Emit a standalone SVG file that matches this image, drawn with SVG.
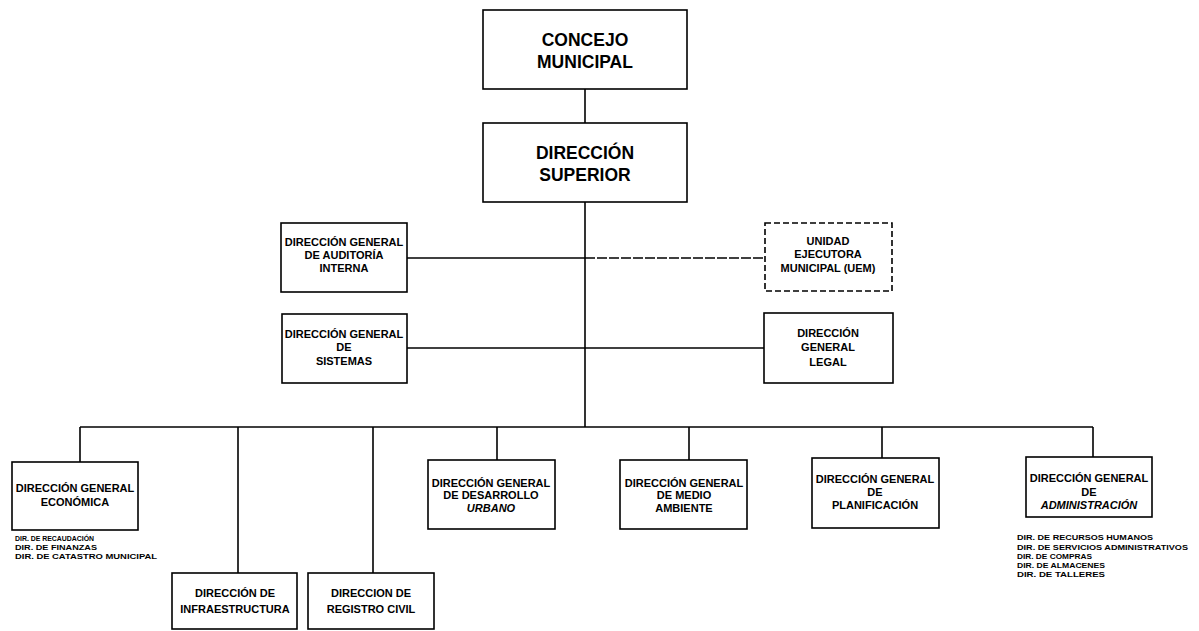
<svg xmlns="http://www.w3.org/2000/svg" width="1199" height="631" viewBox="0 0 1199 631">
  <style>
    .box { fill: #ffffff; stroke: #000000; stroke-width: 1.6; }
    .dash { stroke-dasharray: 6 3; }
    .wire { fill: none; stroke: #000000; stroke-width: 1.6; }
    .wire-d { fill: none; stroke: #000000; stroke-width: 1.6; stroke-dasharray: 10 2; }
    .big { font-family: "Liberation Sans", Arial, sans-serif; font-weight: bold; font-size: 17.5px; text-anchor: middle; fill: #000; }
    .lbl { font-family: "Liberation Sans", Arial, sans-serif; font-weight: bold; font-size: 11px; text-anchor: middle; fill: #000; }
    .it { font-style: italic; }
    .sub { font-family: "Liberation Sans", Arial, sans-serif; font-weight: bold; font-size: 7px; fill: #000; }
  </style>
  <rect width="1199" height="631" fill="#ffffff"/>

  <!-- connectors -->
  <g id="connectors">
    <line class="wire" x1="585" y1="89" x2="585" y2="123"/>
    <line class="wire" x1="585" y1="202" x2="585" y2="427"/>
    <line class="wire" x1="407" y1="258" x2="585" y2="258"/>
    <line class="wire-d" x1="585" y1="258" x2="765" y2="258"/>
    <line class="wire" x1="407" y1="348" x2="764" y2="348"/>
    <line class="wire" x1="80" y1="427" x2="1093" y2="427"/>
    <line class="wire" x1="80" y1="427" x2="80" y2="462"/>
    <line class="wire" x1="238" y1="427" x2="238" y2="573"/>
    <line class="wire" x1="373" y1="427" x2="373" y2="573"/>
    <line class="wire" x1="497" y1="427" x2="497" y2="460"/>
    <line class="wire" x1="689" y1="427" x2="689" y2="460"/>
    <line class="wire" x1="882" y1="427" x2="882" y2="458"/>
    <line class="wire" x1="1093" y1="427" x2="1093" y2="457"/>
  </g>

  <g id="concejo">
    <rect class="box" x="483" y="10" width="204" height="79"/>
    <text class="big" x="585" y="46">CONCEJO</text>
    <text class="big" x="585" y="68">MUNICIPAL</text>
  </g>

  <g id="direccion-superior">
    <rect class="box" x="483" y="123" width="204" height="79"/>
    <text class="big" x="585" y="159">DIRECCIÓN</text>
    <text class="big" x="585" y="181">SUPERIOR</text>
  </g>

  <g id="auditoria">
    <rect class="box" x="281" y="223" width="126" height="69"/>
    <text class="lbl" x="344" y="246">DIRECCIÓN GENERAL</text>
    <text class="lbl" x="344" y="259">DE AUDITORÍA</text>
    <text class="lbl" x="344" y="272">INTERNA</text>
  </g>

  <g id="uem">
    <rect class="box dash" x="765" y="223" width="127" height="68"/>
    <text class="lbl" x="828" y="245">UNIDAD</text>
    <text class="lbl" x="828" y="258">EJECUTORA</text>
    <text class="lbl" x="828" y="272">MUNICIPAL (UEM)</text>
  </g>

  <g id="sistemas">
    <rect class="box" x="282" y="314" width="125" height="69"/>
    <text class="lbl" x="344" y="338">DIRECCIÓN GENERAL</text>
    <text class="lbl" x="344" y="351">DE</text>
    <text class="lbl" x="344" y="365">SISTEMAS</text>
  </g>

  <g id="legal">
    <rect class="box" x="764" y="313" width="129" height="70"/>
    <text class="lbl" x="828" y="337">DIRECCIÓN</text>
    <text class="lbl" x="828" y="351">GENERAL</text>
    <text class="lbl" x="828" y="366">LEGAL</text>
  </g>

  <g id="economica">
    <rect class="box" x="12" y="462" width="126" height="68"/>
    <text class="lbl" x="75" y="492">DIRECCIÓN GENERAL</text>
    <text class="lbl" x="75" y="506">ECONÓMICA</text>
    <text class="sub" x="15" y="541" textLength="79" lengthAdjust="spacingAndGlyphs">DIR. DE RECAUDACIÓN</text>
    <text class="sub" x="15" y="550" textLength="82" lengthAdjust="spacingAndGlyphs">DIR. DE FINANZAS</text>
    <text class="sub" x="15" y="559" textLength="142" lengthAdjust="spacingAndGlyphs">DIR. DE CATASTRO MUNICIPAL</text>
  </g>

  <g id="infraestructura">
    <rect class="box" x="172" y="573" width="125" height="56"/>
    <text class="lbl" x="235" y="597">DIRECCIÓN DE</text>
    <text class="lbl" x="235" y="613">INFRAESTRUCTURA</text>
  </g>

  <g id="registro-civil">
    <rect class="box" x="308" y="573" width="126" height="56"/>
    <text class="lbl" x="371" y="597">DIRECCION DE</text>
    <text class="lbl" x="371" y="613">REGISTRO CIVIL</text>
  </g>

  <g id="desarrollo-urbano">
    <rect class="box" x="428" y="460" width="127" height="69"/>
    <text class="lbl" x="491" y="487">DIRECCIÓN GENERAL</text>
    <text class="lbl" x="491" y="499">DE DESARROLLO</text>
    <text class="lbl it" x="491" y="512">URBANO</text>
  </g>

  <g id="medio-ambiente">
    <rect class="box" x="620" y="460" width="127" height="69"/>
    <text class="lbl" x="684" y="487">DIRECCIÓN GENERAL</text>
    <text class="lbl" x="684" y="499">DE MEDIO</text>
    <text class="lbl" x="684" y="512">AMBIENTE</text>
  </g>

  <g id="planificacion">
    <rect class="box" x="812" y="458" width="127" height="70"/>
    <text class="lbl" x="875" y="483">DIRECCIÓN GENERAL</text>
    <text class="lbl" x="875" y="496">DE</text>
    <text class="lbl" x="875" y="509">PLANIFICACIÓN</text>
  </g>

  <g id="administracion">
    <rect class="box" x="1026" y="457" width="126" height="60"/>
    <text class="lbl" x="1089" y="482">DIRECCIÓN GENERAL</text>
    <text class="lbl" x="1089" y="496">DE</text>
    <text class="lbl it" x="1089" y="509">ADMINISTRACIÓN</text>
    <text class="sub" x="1017" y="540" textLength="136" lengthAdjust="spacingAndGlyphs">DIR. DE RECURSOS HUMANOS</text>
    <text class="sub" x="1017" y="550" textLength="171" lengthAdjust="spacingAndGlyphs">DIR. DE SERVICIOS ADMINISTRATIVOS</text>
    <text class="sub" x="1017" y="559" textLength="75" lengthAdjust="spacingAndGlyphs">DIR. DE COMPRAS</text>
    <text class="sub" x="1017" y="568" textLength="88" lengthAdjust="spacingAndGlyphs">DIR. DE ALMACENES</text>
    <text class="sub" x="1017" y="577" textLength="88" lengthAdjust="spacingAndGlyphs">DIR. DE TALLERES</text>
  </g>
</svg>
